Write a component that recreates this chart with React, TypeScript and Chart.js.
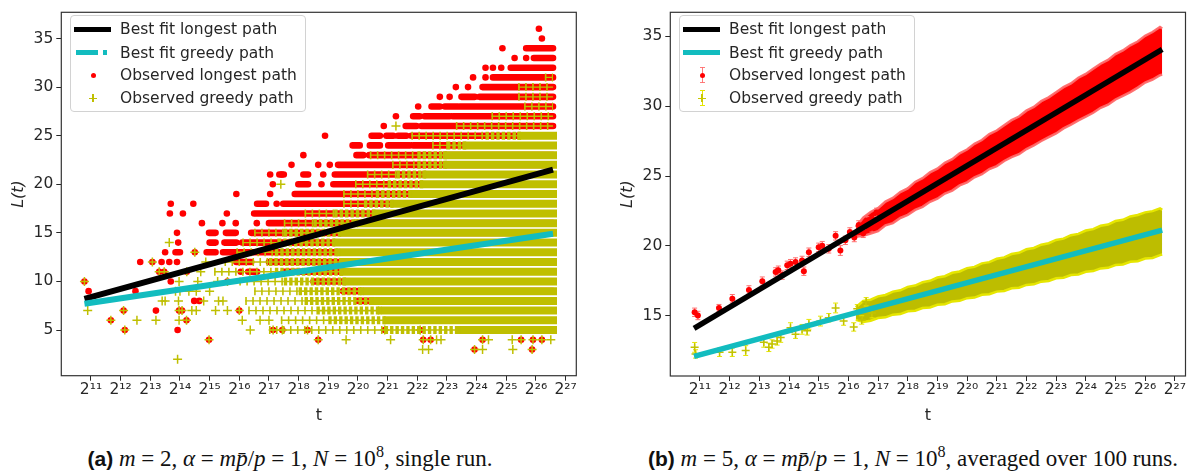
import React, { useEffect, useRef } from 'react';
import { Chart, registerables } from 'chart.js';

Chart.register(...registerables);

// ---------------- shared ----------------
const FONT = '"DejaVu Sans", Verdana, sans-serif';
const TEXT = '#262626';
const RED = '#ff0000';
const OLIVE = '#bfbf00';
const CYAN = '#12bcbf';
const BLACK = '#000000';

const X_TICKS = [11, 12, 13, 14, 15, 16, 17, 18, 19, 20, 21, 22, 23, 24, 25, 26, 27]; // log2 t
const X_MIN = 10.0;
const X_MAX = 27.36;
const T_END = 26.575; // log2(1e8)

// ---------------- panel (a): single run ----------------
const A_Y_TICKS = [5, 10, 15, 20, 25, 30, 35];
const A_Y_MIN = 0.3;
const A_Y_MAX = 37.7;
const A_FIT_T = [10.78, 26.575];
const A_FIT_LONGEST = [8.2, 21.5];
const A_FIT_GREEDY = [7.7, 14.9];

// dense run of observed longest path: [L, log2 t where the run starts] (runs to T_END)
const A_LONGEST_RUNS: [number, number][] = [
  [34, 25.67], [33, 25.93], [32, 25.15], [31, 24.55], [30, 24.2], [29, 24.1], [28, 23.43],
  [27, 23.2], [26, 22.14], [25, 21.8], [24, 21.86], [23, 20.38], [22, 19.33], [21, 19.22],
  [20, 19.17], [19, 17.87], [18, 17.48], [17, 16.5], [16, 17.0], [15, 16.4], [14, 16.1],
  [13, 15.9], [12, 17.0], [11, 17.5], [10, 18.5], [9, 19.5], [8, 20.0], [7, 21.0], [6, 22.5],
];
// short dense pieces of observed longest path: [L, from, to]
const A_LONGEST_SEGS: [number, number, number][] = [
  [29, 23.49, 23.94], [28, 22.48, 22.76], [28, 22.93, 23.37], [27, 21.86, 22.08], [27, 22.25, 23.09],
  [26, 21.61, 21.97], [25, 20.46, 20.74], [25, 20.96, 21.19], [25, 21.35, 21.63], [24, 19.82, 20.06],
  [24, 20.4, 20.74], [24, 21.02, 21.75], [23, 19.95, 20.18], [21, 17.35, 17.5], [21, 18.16, 18.32],
  [20, 17.99, 18.32], [18, 16.6, 16.9], [15, 14.98, 15.2], [15, 15.55, 15.88], [14, 15.0, 15.2],
  [14, 15.5, 15.9], [13, 13.85, 14.0], [13, 14.9, 15.2], [13, 15.45, 15.85], [12, 15.9, 16.4], [11, 16.3, 16.6],
];
// isolated observed longest path points: [log2 t, L]
const A_LONGEST_DOTS: [number, number][] = [
  [26.1, 36], [26.2, 35], [24.87, 34], [25.28, 33], [25.67, 33], [24.3, 32], [24.55, 32], [24.83, 32],
  [23.88, 31], [24.3, 31], [23.3, 30], [23.71, 30], [22.76, 29], [23.09, 29], [22.03, 28], [21.28, 27],
  [20.87, 26], [18.89, 25], [18.16, 23], [17.76, 22], [18.66, 22], [19.05, 22], [17.04, 21], [17.43, 21],
  [18.83, 21], [17.13, 20], [18.77, 20], [15.9, 19], [17.04, 19], [13.69, 18], [14.45, 18], [17.26, 18],
  [13.66, 17], [14.1, 17], [15.58, 17], [14.74, 16], [15.43, 16], [15.88, 16], [16.59, 16], [13.9, 15],
  [13.94, 14], [13.5, 13], [12.66, 12], [13.38, 12], [13.64, 12], [13.9, 12], [16.05, 11], [13.69, 10],
  [10.92, 9], [12.5, 9], [14.48, 8], [14.65, 8], [13.19, 7], [13.92, 5],
  // points shared with the greedy path
  [10.78, 10], [13.07, 12], [13.47, 11], [14.23, 11], [12.1, 7], [13.97, 7], [14.07, 7], [11.67, 6],
  [14.22, 6], [12.14, 5], [14.98, 4], [18.66, 4], [22.2, 4], [22.45, 4], [24.2, 4], [25.5, 4], [25.9, 4],
  [26.2, 4], [23.93, 3], [25.87, 3], [17.14, 5], [17.45, 5], [18.3, 5], [20.9, 5], [22.1, 5], [16.0, 7],
  [15.6, 10], [14.5, 13], [13.3, 11],
];
// dense run of observed greedy path: [L, start] (to T_END)
const A_GREEDY_RUNS: [number, number][] = [
  [25, 25.5], [24, 23.65], [23, 23.0], [22, 23.0], [21, 22.3], [20, 22.2], [19, 21.86], [18, 21.2],
  [17, 20.6], [16, 20.0], [15, 19.5], [14, 19.3], [13, 19.4], [12, 19.5], [11, 19.5], [10, 19.6],
  [9, 20.2], [8, 20.5], [7, 20.8], [6, 21.0], [5, 23.5],
];
// stretches with scattered greedy markers: [L, from, to]
const A_GREEDY_SPARSE: [number, number, number][] = [
  [31, 26.3, 26.575], [30, 25.4, 26.575], [29, 25.4, 26.575], [28, 25.6, 26.575], [27, 24.5, 26.575],
  [26, 23.3, 26.575], [25, 21.8, 24.3], [24, 22.5, 23.0], [23, 20.4, 22.0], [22, 21.15, 22.0],
  [21, 20.3, 21.3], [20, 19.9, 21.0], [19, 19.5, 20.6], [18, 19.5, 20.2], [17, 18.2, 19.2],
  [16, 17.5, 18.5], [15, 16.5, 17.5], [14, 16.1, 17.3], [13, 15.9, 17.2], [12, 15.5, 17.0],
  [11, 15.15, 17.2], [10, 16.0, 17.5], [9, 16.5, 18.0], [8, 16.2, 18.2], [7, 16.3, 18.6],
  [6, 17.4, 19.0], [5, 17.0, 20.9],
];
// stretches with closely packed greedy markers: [L, from, to]
const A_GREEDY_MIXED: [number, number, number][] = [
  [25, 24.3, 25.5], [24, 23.0, 23.65], [23, 22.0, 23.0], [22, 22.0, 23.0], [21, 21.3, 22.3],
  [20, 21.0, 22.2], [19, 20.6, 21.86], [18, 20.2, 21.2], [17, 19.2, 20.6], [16, 18.5, 20.0],
  [15, 17.5, 19.5], [14, 17.3, 19.3], [13, 17.2, 19.4], [12, 17.0, 19.5], [11, 17.2, 19.5],
  [10, 17.5, 19.6], [9, 18.0, 20.2], [8, 18.2, 20.5], [7, 18.6, 20.8], [6, 19.0, 21.0], [5, 20.9, 23.5],
];
// isolated observed greedy path points: [log2 t, L]
const A_GREEDY_CROSSES: [number, number][] = [
  [13.64, 14], [10.89, 7], [12.55, 6], [13.19, 6], [13.97, 6], [16.1, 6], [16.37, 5], [13.92, 2],
  [13.97, 10], [14.6, 10], [15.27, 10], [13.4, 8], [13.5, 8], [13.95, 8], [14.8, 8], [15.3, 8], [15.45, 8],
  [14.7, 11], [14.87, 12], [13.85, 9], [14.0, 9], [14.3, 9], [14.55, 9], [15.0, 9], [14.4, 7], [14.55, 7],
  [15.2, 7], [15.6, 7], [17.4, 20], [21.28, 26], [19.6, 4], [21.1, 4], [22.65, 4], [22.8, 4], [24.4, 4],
  [25.2, 4], [26.5, 4], [22.18, 3], [22.38, 3], [24.2, 3], [25.22, 3], [16.7, 6], [17.0, 6],
  [10.78, 10], [13.07, 12], [13.47, 11], [14.23, 11], [12.1, 7], [13.97, 7], [14.07, 7], [11.67, 6],
  [14.22, 6], [12.14, 5], [14.98, 4], [18.66, 4], [22.2, 4], [22.45, 4], [24.2, 4], [25.5, 4], [25.9, 4],
  [26.2, 4], [23.93, 3], [25.87, 3], [17.14, 5], [17.45, 5], [18.3, 5], [20.9, 5], [22.1, 5], [16.0, 7],
  [15.6, 10], [14.5, 13], [13.3, 11],
];

// ---------------- panel (b): averaged over 100 runs ----------------
const B_Y_TICKS = [15, 20, 25, 30, 35];
const B_Y_MIN = 10.69;
const B_Y_MAX = 36.72;
const B_FIT_T = [10.8, 26.575];
const B_FIT_LONGEST = [14.1, 34.06];
const B_FIT_GREEDY = [12.09, 21.13];

// individual averaged points: [log2 t, mean L, error]
const B_LONGEST_PTS: [number, number, number][] = [
  [10.82, 15.25, 0.3], [10.93, 15.02, 0.3], [11.64, 15.56, 0.25], [12.09, 16.22, 0.3], [12.65, 16.85, 0.3],
  [13.1, 17.48, 0.3], [13.55, 18.14, 0.3], [13.64, 18.26, 0.3], [13.77, 17.91, 0.3], [13.94, 18.61, 0.3],
  [14.05, 18.73, 0.3], [14.22, 18.85, 0.3], [14.44, 18.96, 0.3], [14.5, 18.19, 0.3], [14.67, 19.55, 0.3],
  [15.0, 19.9, 0.3], [15.12, 20.02, 0.3], [15.34, 19.79, 0.3], [15.57, 20.72, 0.3], [15.73, 19.67, 0.35],
  [15.9, 20.4, 0.3], [16.05, 21.0, 0.3], [16.2, 20.6, 0.3], [16.35, 21.5, 0.3], [16.5, 20.9, 0.3],
  [16.62, 21.8, 0.3], [16.8, 21.3, 0.3], [16.95, 22.4, 0.3],
];
const B_GREEDY_PTS: [number, number, number][] = [
  [10.82, 12.74, 0.35], [10.85, 12.27, 0.3], [11.66, 12.39, 0.3], [12.09, 12.39, 0.3], [12.54, 12.51, 0.35],
  [13.15, 13.1, 0.35], [13.32, 12.74, 0.3], [13.43, 12.98, 0.3], [13.6, 13.2, 0.3], [13.72, 13.45, 0.35],
  [14.05, 14.15, 0.35], [14.22, 13.68, 0.3], [14.44, 14.03, 0.35], [14.61, 13.92, 0.3], [14.67, 14.39, 0.35],
  [15.06, 14.62, 0.35], [15.34, 14.86, 0.3], [15.57, 15.56, 0.35], [15.84, 14.62, 0.3], [16.18, 14.2, 0.3],
  [16.3, 15.5, 0.3], [16.45, 14.7, 0.3], [16.6, 16.0, 0.3], [16.8, 15.2, 0.35],
];
// dense region: envelope of the points and their error bars
const B_BAND_T = [
  16.25, 16.5, 16.75, 17.0, 17.25, 17.5, 17.75, 18.0, 18.25, 18.5, 18.75, 19.0, 19.25, 19.5, 19.75,
  20.0, 20.25, 20.5, 20.75, 21.0, 21.25, 21.5, 21.75, 22.0, 22.25, 22.5, 22.75, 23.0, 23.25, 23.5,
  23.75, 24.0, 24.25, 24.5, 24.75, 25.0, 25.25, 25.5, 25.75, 26.0, 26.25, 26.5, 26.575,
];
const B_LONGEST_HI = [
  21.35, 22.02, 22.43, 22.7, 23.17, 23.43, 23.85, 24.12, 24.58, 24.85, 25.26, 25.53, 25.95, 26.21, 26.63,
  26.9, 27.31, 27.58, 28.0, 28.26, 28.63, 29.0, 29.26, 29.68, 29.95, 30.36, 30.63, 31.0, 31.36, 31.63,
  32.04, 32.31, 32.68, 33.04, 33.31, 33.73, 33.99, 34.36, 34.63, 35.04, 35.31, 35.67, 35.56,
];
const B_LONGEST_LO = [
  20.65, 20.72, 20.88, 21.05, 21.47, 21.63, 22.0, 22.22, 22.58, 22.8, 23.16, 23.38, 23.75, 23.96, 24.33,
  24.55, 24.91, 25.13, 25.5, 25.71, 26.08, 26.35, 26.56, 26.93, 27.2, 27.51, 27.78, 28.05, 28.41, 28.68,
  28.99, 29.26, 29.53, 29.89, 30.11, 30.48, 30.74, 31.01, 31.33, 31.69, 31.91, 32.22, 32.26,
];
const B_GREEDY_HI = [
  15.61, 16.06, 16.15, 16.39, 16.49, 16.73, 16.82, 17.07, 17.16, 17.4, 17.5, 17.74, 17.83, 18.08, 18.17,
  18.41, 18.5, 18.75, 18.84, 19.08, 19.18, 19.42, 19.51, 19.76, 19.85, 20.09, 20.19, 20.43, 20.52, 20.77,
  20.86, 21.1, 21.2, 21.44, 21.53, 21.78, 21.87, 22.11, 22.21, 22.4, 22.49, 22.69, 22.58,
];
const B_GREEDY_LO = [
  14.71, 14.56, 14.65, 14.84, 14.89, 15.08, 15.12, 15.32, 15.36, 15.55, 15.6, 15.79, 15.83, 16.03, 16.07,
  16.26, 16.3, 16.5, 16.54, 16.73, 16.78, 16.97, 17.01, 17.21, 17.25, 17.44, 17.49, 17.68, 17.72, 17.92,
  17.96, 18.15, 18.2, 18.39, 18.43, 18.63, 18.67, 18.86, 18.91, 19.1, 19.14, 19.34, 19.38,
];

// ---------------- helpers ----------------
const SUP: Record<string, string> = { '0': '⁰', '1': '¹', '2': '²', '3': '³', '4': '⁴', '5': '⁵', '6': '⁶', '7': '⁷', '8': '⁸', '9': '⁹' };
const powLabel = (v: number) => '2' + String(Math.round(v)).split('').map((c) => SUP[c]).join('');

type P = { x: number; y: number | null };
const brk = (x: number): P => ({ x, y: null });
const runPts = (rows: [number, number][], end: number): P[] =>
  rows.flatMap(([L, s]) => [{ x: s, y: L }, { x: end, y: L }, brk(end)]);
const segPts = (rows: [number, number, number][]): P[] =>
  rows.flatMap(([L, a, b]) => [{ x: a, y: L }, { x: b, y: L }, brk(b)]);
const dots = (rows: [number, number][]): P[] => rows.map(([x, y]) => ({ x, y }));
const fitPts = (t: number[], v: number[]): P[] => t.map((x, i) => ({ x, y: v[i] }));
const errBars = (rows: [number, number, number][]): P[] =>
  rows.flatMap(([x, y, e]) => [{ x, y: y - e }, { x, y: y + e }, brk(x)]);
const errCaps = (rows: [number, number, number][]): P[] =>
  rows.flatMap(([x, y, e]) => [{ x, y: y - e }, { x, y: y + e }]);
const meanPts = (rows: [number, number, number][]): P[] => rows.map(([x, y]) => ({ x, y }));
const bandPts = (t: number[], v: number[]): P[] => t.map((x, i) => ({ x, y: v[i] }));

const lineDs = (data: P[], color: string, width: number, order: number, extra: any = {}) => ({
  data, showLine: true, borderColor: color, backgroundColor: color, borderWidth: width,
  pointRadius: 0, pointHoverRadius: 0, spanGaps: false, tension: 0, order, ...extra,
});
const pointDs = (data: P[], order: number, extra: any) => ({
  data, showLine: false, order, pointHoverRadius: extra.pointRadius, ...extra,
});

const framePlugin = {
  id: 'frame',
  afterDatasetsDraw(chart: any) {
    const { ctx, chartArea: a } = chart;
    ctx.save();
    ctx.strokeStyle = '#333333';
    ctx.lineWidth = 1.2;
    ctx.strokeRect(a.left, a.top, a.right - a.left, a.bottom - a.top);
    ctx.restore();
  },
};

const TICK_FONT = { family: FONT, size: 15.5 };
const TITLE_SIZE = 16;

function makeScales(o: { yMin: number; yMax: number; yTicks: number[]; yWidth: number; yTitlePad: number; xHeight: number }) {
  return {
    x: {
      type: 'linear', min: X_MIN, max: X_MAX,
      afterBuildTicks: (s: any) => { s.ticks = X_TICKS.map((v) => ({ value: v })); },
      afterFit: (s: any) => { s.height = o.xHeight; },
      ticks: { callback: (v: any) => powLabel(Number(v)), font: TICK_FONT, color: TEXT, padding: 0, maxRotation: 0, minRotation: 0, autoSkip: false },
      grid: { drawOnChartArea: false, drawTicks: true, tickLength: 5, tickColor: TEXT, tickWidth: 1 },
      border: { display: false },
      title: { display: true, text: 't', font: { family: FONT, size: TITLE_SIZE }, color: TEXT, padding: { top: 0, bottom: 7 } },
    },
    y: {
      type: 'linear', min: o.yMin, max: o.yMax,
      afterBuildTicks: (s: any) => { s.ticks = o.yTicks.map((v) => ({ value: v })); },
      afterFit: (s: any) => { s.width = o.yWidth; },
      ticks: { callback: (v: any) => String(v), font: TICK_FONT, color: TEXT, padding: 3, autoSkip: false },
      grid: { drawOnChartArea: false, drawTicks: true, tickLength: 5, tickColor: TEXT, tickWidth: 1 },
      border: { display: false },
      title: { display: true, text: 'L(t)', font: { family: FONT, size: TITLE_SIZE, style: 'italic' }, color: TEXT, padding: { top: o.yTitlePad, bottom: 0 } },
    },
  };
}

function baseOptions(scales: any, padRight: number) {
  return {
    responsive: false,
    maintainAspectRatio: false,
    devicePixelRatio: 1,
    animation: false,
    events: [],
    layout: { padding: { left: 0, top: 7.8, right: padRight, bottom: 0 } },
    plugins: { legend: { display: false }, tooltip: { enabled: false }, title: { display: false } },
    scales,
  };
}

function configA(): any {
  const datasets = [
    lineDs(fitPts(A_FIT_T, A_FIT_GREEDY), CYAN, 6, 0, { label: 'Best fit greedy path' }),
    lineDs(fitPts(A_FIT_T, A_FIT_LONGEST), BLACK, 6, 1, { label: 'Best fit longest path' }),
    pointDs(dots(A_GREEDY_CROSSES), 2, { label: 'Observed greedy path', pointStyle: 'cross', pointRadius: 4.5, borderColor: OLIVE, backgroundColor: OLIVE, borderWidth: 1.5 }),
    lineDs(segPts(A_GREEDY_SPARSE), OLIVE, 8, 3, { borderDash: [1.6, 5.4], borderCapStyle: 'butt' }),
    lineDs(segPts(A_GREEDY_SPARSE), OLIVE, 1.4, 4, { borderCapStyle: 'butt' }),
    lineDs(segPts(A_GREEDY_MIXED), OLIVE, 8, 5, { borderDash: [3.4, 2.0], borderCapStyle: 'butt' }),
    lineDs(segPts(A_GREEDY_MIXED), OLIVE, 1.6, 6, { borderCapStyle: 'butt' }),
    lineDs(runPts(A_GREEDY_RUNS, T_END), OLIVE, 8, 7, { borderCapStyle: 'square' }),
    pointDs(dots(A_LONGEST_DOTS), 8, { label: 'Observed longest path', pointStyle: 'circle', pointRadius: 3.3, backgroundColor: RED, borderWidth: 0 }),
    lineDs([...runPts(A_LONGEST_RUNS, T_END), ...segPts(A_LONGEST_SEGS)], RED, 6.6, 9, { borderCapStyle: 'round' }),
  ];
  return {
    type: 'scatter',
    data: { datasets },
    options: baseOptions(makeScales({ yMin: A_Y_MIN, yMax: A_Y_MAX, yTicks: A_Y_TICKS, yWidth: 61.3, yTitlePad: 9.4, xHeight: 56.3 }), 23.7),
    plugins: [framePlugin],
  };
}

function configB(): any {
  const redEdge = 'rgba(255,105,105,0.95)';
  const yelEdge = '#e6e600';
  const datasets = [
    lineDs(fitPts(B_FIT_T, B_FIT_GREEDY), CYAN, 5.5, 0, { label: 'Best fit greedy path' }),
    lineDs(fitPts(B_FIT_T, B_FIT_LONGEST), BLACK, 5.5, 1, { label: 'Best fit longest path' }),
    // greedy
    pointDs(meanPts(B_GREEDY_PTS), 2, { label: 'Observed greedy path', pointStyle: 'cross', pointRadius: 4, borderColor: '#c2c200', borderWidth: 1.5 }),
    pointDs(errCaps(B_GREEDY_PTS), 3, { pointStyle: 'line', pointRadius: 2.5, borderColor: yelEdge, borderWidth: 1 }),
    lineDs(errBars(B_GREEDY_PTS), yelEdge, 1.2, 4),
    lineDs(bandPts(B_BAND_T, B_GREEDY_HI), yelEdge, 2.5, 5),
    lineDs(bandPts(B_BAND_T, B_GREEDY_LO), yelEdge, 2.5, 6, { fill: '-1', backgroundColor: '#bdbd00' }),
    // longest
    pointDs(meanPts(B_LONGEST_PTS), 7, { label: 'Observed longest path', pointStyle: 'circle', pointRadius: 3, backgroundColor: RED, borderWidth: 0 }),
    pointDs(errCaps(B_LONGEST_PTS), 8, { pointStyle: 'line', pointRadius: 2.5, borderColor: redEdge, borderWidth: 1 }),
    lineDs(errBars(B_LONGEST_PTS), redEdge, 1.2, 9),
    lineDs(bandPts(B_BAND_T, B_LONGEST_HI), redEdge, 2.5, 10),
    lineDs(bandPts(B_BAND_T, B_LONGEST_LO), redEdge, 2.5, 11, { fill: '-1', backgroundColor: RED }),
  ];
  return {
    type: 'scatter',
    data: { datasets },
    options: baseOptions(makeScales({ yMin: B_Y_MIN, yMax: B_Y_MAX, yTicks: B_Y_TICKS, yWidth: 70.3, yTitlePad: 18.4, xHeight: 56 }), 11.5),
    plugins: [framePlugin],
  };
}

function ChartCanvas({ make, left, width, height }: { make: () => any; left: number; width: number; height: number }) {
  const ref = useRef<HTMLCanvasElement>(null);
  useEffect(() => {
    const chart = new Chart(ref.current as HTMLCanvasElement, make());
    return () => chart.destroy();
  }, []);
  return <canvas ref={ref} width={width} height={height} style={{ position: 'absolute', left, top: 0, width, height, display: 'block' }} />;
}

// ---------------- legend (html overlay) ----------------
type Kind = 'line' | 'dash' | 'dot' | 'cross' | 'errdot' | 'errcross';
const abs = (s: any) => ({ position: 'absolute' as const, ...s });

function Swatch({ kind, color }: { kind: Kind; color: string }) {
  const cx = 22;
  const cross = (c: string) => [
    <div key="h" style={abs({ left: cx - 4, top: 9.4, width: 8, height: 1.3, background: c })} />,
    <div key="v" style={abs({ left: cx - 0.65, top: 6, width: 1.3, height: 8, background: c })} />,
  ];
  const err = (c: string) => [
    <div key="eb" style={abs({ left: cx - 0.5, top: 2, width: 1, height: 16, background: c })} />,
    <div key="et" style={abs({ left: cx - 2.5, top: 2, width: 5, height: 1, background: c })} />,
    <div key="ebb" style={abs({ left: cx - 2.5, top: 17, width: 5, height: 1, background: c })} />,
  ];
  switch (kind) {
    case 'line':
      return <div style={abs({ left: 3, top: 7.25, width: 37, height: 5.5, background: color })} />;
    case 'dash':
      return (
        <>
          <div style={abs({ left: 5, top: 7.25, width: 22, height: 5.5, background: color })} />
          <div style={abs({ left: 32, top: 7.25, width: 4, height: 5.5, background: color })} />
        </>
      );
    case 'dot':
      return <div style={abs({ left: cx - 2.5, top: 7.5, width: 5, height: 5, borderRadius: '50%', background: color })} />;
    case 'cross':
      return <>{cross(color)}</>;
    case 'errdot':
      return (
        <>
          {err('rgba(255,110,110,0.9)')}
          <div style={abs({ left: cx - 2.5, top: 7.5, width: 5, height: 5, borderRadius: '50%', background: color })} />
        </>
      );
    case 'errcross':
      return (
        <>
          {err('#e6e600')}
          {cross(color)}
        </>
      );
  }
  return null;
}

function LegendBox({ left, items }: { left: number; items: { kind: Kind; color: string; text: string }[] }) {
  const rowsY = [13.3, 36.6, 59.4, 82.4];
  return (
    <div style={abs({ left, top: 15, width: 236, height: 97, border: '1px solid #d2d2d2', borderRadius: 4, background: 'rgba(255,255,255,0.82)', boxSizing: 'border-box' })}>
      {items.map((it, i) => (
        <div key={i} style={abs({ left: 0, top: rowsY[i] - 10, width: 234, height: 20 })}>
          <Swatch kind={it.kind} color={it.color} />
          <span style={abs({ left: 49, top: 0, lineHeight: '20px', fontFamily: FONT, fontSize: 15.5, color: TEXT, whiteSpace: 'nowrap' })}>{it.text}</span>
        </div>
      ))}
    </div>
  );
}

const LEGEND_A = [
  { kind: 'line' as Kind, color: BLACK, text: 'Best fit longest path' },
  { kind: 'dash' as Kind, color: CYAN, text: 'Best fit greedy path' },
  { kind: 'dot' as Kind, color: RED, text: 'Observed longest path' },
  { kind: 'cross' as Kind, color: OLIVE, text: 'Observed greedy path' },
];
const LEGEND_B = [
  { kind: 'line' as Kind, color: BLACK, text: 'Best fit longest path' },
  { kind: 'line' as Kind, color: CYAN, text: 'Best fit greedy path' },
  { kind: 'errdot' as Kind, color: RED, text: 'Observed longest path' },
  { kind: 'errcross' as Kind, color: '#c8c800', text: 'Observed greedy path' },
];

function Caption({ left, width, tag, tail }: { left: number; width: number; tag: string; tail: React.ReactNode }) {
  return (
    <div style={abs({ left, top: 445, width, textAlign: 'center', fontFamily: '"Liberation Serif", "Times New Roman", serif', fontSize: 23, color: '#111', whiteSpace: 'nowrap', lineHeight: '28px' })}>
      <b style={{ fontFamily: '"Liberation Sans", Arial, sans-serif', fontSize: 21 }}>{tag}</b>{' '}
      <i>m</i> = {tail}
    </div>
  );
}

export default function App() {
  useEffect(() => {
    document.body.style.margin = '0';
  }, []);
  const sup8 = <sup style={{ fontSize: '0.7em', verticalAlign: '0.55em', lineHeight: 0 }}>8</sup>;
  return (
    <div style={{ position: 'absolute', left: 0, top: 0, width: 1197, height: 476, background: '#ffffff', overflow: 'hidden' }}>
      <ChartCanvas make={configA} left={0} width={600} height={432} />
      <ChartCanvas make={configB} left={600} width={597} height={432} />
      <LegendBox left={70} items={LEGEND_A} />
      <LegendBox left={679} items={LEGEND_B} />
      <Caption left={0} width={580} tag="(a)" tail={<>2, <i>α</i> = <i>m</i><i>p̄</i>/<i>p</i> = 1, <i>N</i> = 10{sup8}, single run.</>} />
      <Caption left={633} width={560} tag="(b)" tail={<>5, <i>α</i> = <i>m</i><i>p̄</i>/<i>p</i> = 1, <i>N</i> = 10{sup8}, averaged over 100 runs.</>} />
    </div>
  );
}
